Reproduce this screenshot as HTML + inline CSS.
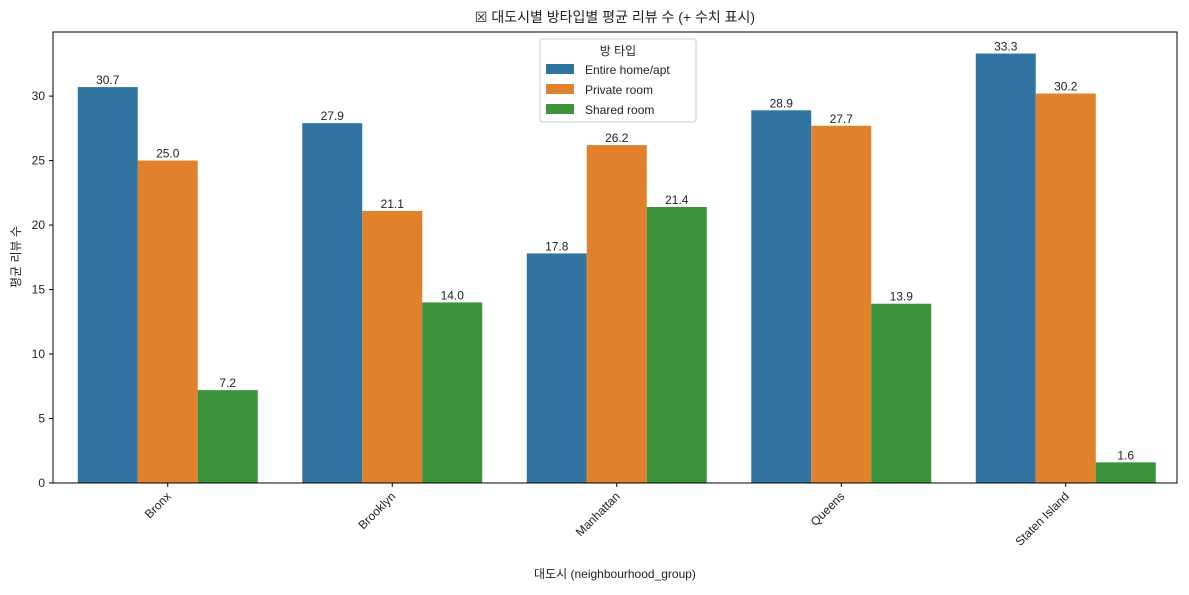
<!DOCTYPE html>
<html><head><meta charset="utf-8"><style>
body{margin:0;background:#fff;font-family:"Liberation Sans","Noto Sans CJK KR",sans-serif;}
svg text{font-family:"Liberation Sans","Noto Sans CJK KR",sans-serif;fill:#222;}
</style></head><body>
<svg id="c" width="1189" height="590">
<text x="615" y="22" font-size="14" text-anchor="middle">☒ 대도시별 방타입별 평균 리뷰 수 (+ 수치 표시)</text>
<g id="bars"></g>
<g id="axes"></g>
<text x="615" y="578" font-size="12" text-anchor="middle">대도시 (neighbourhood_group)</text>
<text transform="translate(20,257) rotate(-90)" font-size="12" text-anchor="middle">평균 리뷰 수</text>
<g>
<rect x="540" y="39" width="156" height="83" fill="#fff" stroke="#ccc" rx="3"/>
<text x="618" y="55" font-size="12" text-anchor="middle">방 타입</text>
<g id="leg"></g>
</g>
</svg>
<script>
const categories=["Bronx","Brooklyn","Manhattan","Queens","Staten Island"];
const seriesNames=["Entire home/apt","Private room","Shared room"];
const entire=[30.7,27.9,17.8,28.9,33.3];
const priv=[25.0,21.1,26.2,27.7,30.2];
const shared=[7.2,14.0,21.4,13.9,1.6];
const yTicks=[0,5,10,15,20,25,30];
const colors=["#3274a1","#e1812c","#3a923a"];
const L=53,R=1177,T=32,B=483,yMax=34.97;
const XL=55.5,XR=1178;
const y=v=>B-v/yMax*(B-T);
const step=(XR-XL)/categories.length;
const xc=i=>XL+step*(i+0.5);
const bw=60;
const NS="http://www.w3.org/2000/svg";
function mk(t,a,p){const e=document.createElementNS(NS,t);for(const k in a)e.setAttribute(k,a[k]);p.appendChild(e);return e;}
const bars=document.getElementById('bars'),axes=document.getElementById('axes'),leg=document.getElementById('leg');
[entire,priv,shared].forEach((s,j)=>{s.forEach((v,i)=>{
 const x=xc(i)+(j-1.5)*bw;
 const r=mk('rect',{x:x,y:y(v),width:bw,height:B-y(v),fill:colors[j]},bars);
 
 
 const t=mk('text',{x:x+bw/2,y:y(v)-3,'font-size':12,'text-anchor':'middle'},bars);
 t.textContent=v.toFixed(1);
 
 
});});
mk('rect',{x:L,y:T,width:R-L,height:B-T,fill:'none',stroke:'#000','stroke-width':1},axes);
yTicks.forEach(v=>{
 mk('line',{x1:L-4,x2:L,y1:y(v),y2:y(v),stroke:'#000'},axes);
 const t=mk('text',{x:L-8,y:y(v)+4,'font-size':12,'text-anchor':'end'},axes);
 t.textContent=v;
 
 
});
categories.forEach((c,i)=>{
 mk('line',{x1:xc(i),x2:xc(i),y1:B,y2:B+4,stroke:'#000'},axes);
 const t=mk('text',{x:xc(i)+4,y:B+14,'font-size':12,'text-anchor':'end',transform:`rotate(-45 ${xc(i)+4} ${B+14})`},axes);
 t.textContent=c;
 
 
});
seriesNames.forEach((n,j)=>{
 mk('rect',{x:546,y:64+j*20,width:28,height:10,fill:colors[j]},leg);
 const t=mk('text',{x:585,y:74+j*20,'font-size':12},leg);
 t.textContent=n;
 
 
});
</script>
</body></html>
